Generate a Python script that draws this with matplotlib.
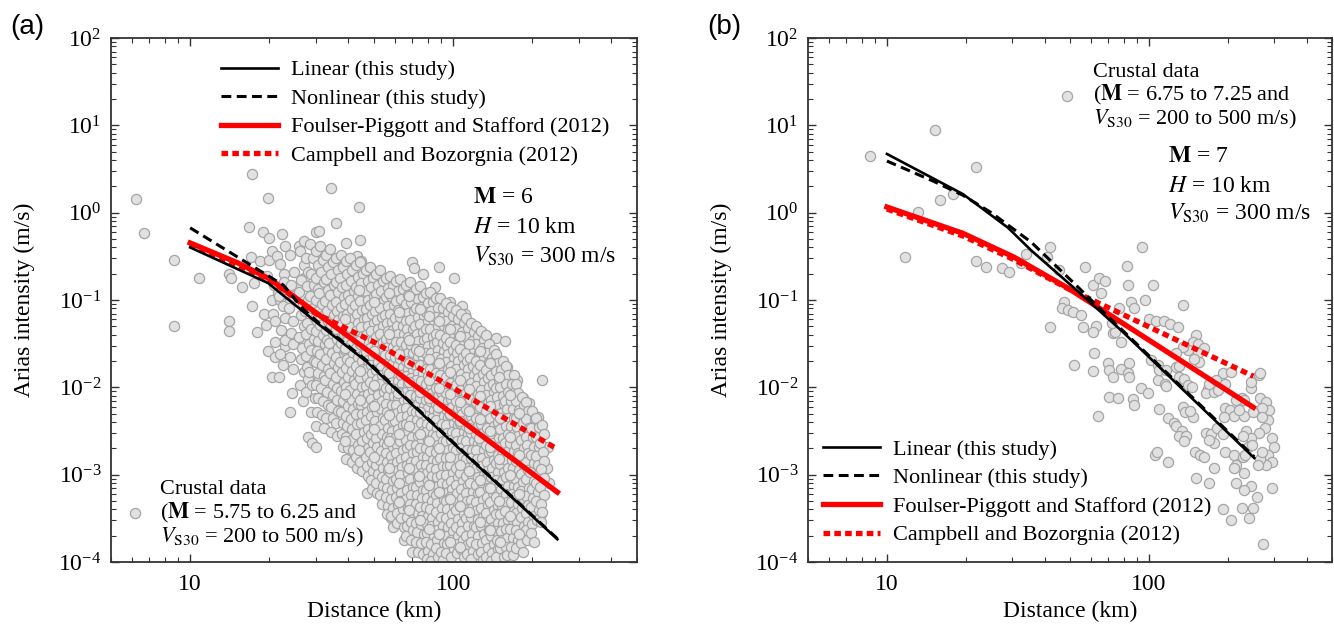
import matplotlib
matplotlib.use("Agg")
import matplotlib.pyplot as plt
from matplotlib.ticker import (LogLocator, NullFormatter, FixedLocator, FixedFormatter,
                               LogFormatterSciNotation)

plt.rcParams["font.family"] = ["Liberation Serif", "DejaVu Serif"]
plt.rcParams["mathtext.fontset"] = "stix"

# ---------------------------------------------------------------------------
# Data (distance in km, Arias intensity in m/s)
# ---------------------------------------------------------------------------
y_ticks = [1e-4, 1e-3, 1e-2, 1e-1, 1e0, 1e1, 1e2]
x_ticks = [10, 100]
x_tick_labels = ["10", "100"]

# (a) M = 6 model curves
lin_a_dist = [10, 19.8, 31, 47, 64, 100, 249]
lin_a_ia = [0.40, 0.156, 0.052, 0.0195, 0.0081, 0.0023, 1.82e-4]
nl_a_dist = [10, 17.4, 22.6, 27, 31, 47, 64, 100, 249]
nl_a_ia = [0.67, 0.24, 0.148, 0.078, 0.054, 0.0202, 0.0083, 0.00235, 1.85e-4]
fp_a_dist = [10, 15, 20, 30, 55, 100, 249]
fp_a_ia = [0.45, 0.27, 0.175, 0.072, 0.019, 0.0049, 6.3e-4]
cb_a_dist = [10, 20, 30, 50, 100, 249]
cb_a_ia = [0.44, 0.172, 0.07, 0.033, 0.0098, 0.00196]

# (b) M = 7 model curves
lin_b_dist = [10, 19.5, 29, 35.5, 51.8, 78.2, 252]
lin_b_ia = [4.7, 1.63, 0.67, 0.37, 0.137, 0.045, 0.00155]
nl_b_dist = [10, 15, 19.5, 25, 35.5, 51.8, 70, 100, 252]
nl_b_ia = [3.9, 2.3, 1.58, 1.0, 0.46, 0.155, 0.064, 0.023, 0.0016]
fp_b_dist = [10, 19.5, 30.5, 49, 78, 250]
fp_b_ia = [1.16, 0.58, 0.31, 0.137, 0.056, 0.0059]
cb_b_dist = [10, 19.5, 30.5, 49, 78, 150, 250]
cb_b_ia = [1.1, 0.54, 0.29, 0.135, 0.07, 0.0276, 0.0134]

# crustal records, M 5.75-6.25
crustal_a = [
    (6.2, 1.43), (6.7, 0.58), (8.7, 0.29), (8.7, 0.051), (10.8, 0.18), (14.0, 0.2), (14.3, 0.18),
    (14.0, 0.058), (14.1, 0.044), (15.8, 0.14), (16.8, 0.68), (17.0, 0.31), (17.2, 2.8), (17.2, 0.085),
    (17.5, 0.155), (17.9, 0.043), (18.5, 0.28), (19.0, 0.6), (19.1, 0.07), (19.5, 0.052), (19.7, 1.47),
    (19.8, 0.026), (20.0, 0.51), (20.0, 0.29), (20.4, 0.36), (20.4, 0.013), (20.5, 0.1), (20.6, 0.07),
    (21.0, 0.058), (21.0, 0.022), (21.0, 0.033), (21.3, 0.32), (21.7, 0.013), (22.0, 0.1), (22.3, 0.57),
    (22.6, 0.018), (22.8, 0.2), (23.0, 0.42), (23.0, 0.03), (23.9, 0.0052), (24.0, 0.098), (25.0, 0.034),
    (25.6, 0.14), (26.0, 0.42), (27.0, 0.47), (27.0, 0.18), (27.0, 0.032), (28.0, 0.0027), (28.7, 0.012),
    (29.0, 0.0023), (30.0, 0.0021), (30.0, 0.6), (30.0, 0.37), (31.0, 0.62), (31.0, 0.32), (31.0, 0.012),
    (32.7, 0.22), (33.0, 0.012), (34.2, 1.91), (35.7, 0.25), (36.0, 0.76), (39.0, 0.45), (39.0, 0.18),
    (42.6, 0.28), (43.0, 0.32), (43.8, 1.16), (44.3, 0.48), (44.5, 0.28), (47, 6.1e-4), (58, 3.2e-4),
    (59, 2.5e-4), (60, 0.16), (65, 1.8e-4), (70, 0.27), (70, 1.3e-4), (71, 0.23), (77, 0.2), (79, 0.12),
    (85, 0.14), (88, 0.24), (97, 0.095), (101, 0.18), (108, 0.085), (111, 0.07), (145, 0.037),
    (157, 0.034), (160, 0.017), (175, 0.012), (185, 0.0075), (195, 0.0067), (210, 0.0046),
    (213, 4.4e-4), (215, 3.5e-4), (218, 0.012), (218, 0.0012), (228, 0.0012), (229, 0.0021), (232, 8e-4),
    (20.8, 0.15), (21.5, 0.12), (19.6, 0.19),
    (22.0, 0.26), (22.8, 0.16), (21.8, 0.11), (22.5, 0.085), (23.0, 0.062), (22.2, 0.045), (22.9, 0.035), (21.9, 0.024),
    (24.0, 0.33), (24.8, 0.21), (24.2, 0.15), (24.9, 0.11), (23.8, 0.08), (24.5, 0.058), (24.1, 0.042),
    (24.7, 0.031), (23.9, 0.022), (24.6, 0.016), (24.3, 0.0085),
    (26.2, 0.36), (27.0, 0.25), (26.5, 0.17), (25.9, 0.125), (26.8, 0.09), (26.3, 0.068), (27.1, 0.05),
    (26.0, 0.038), (26.7, 0.028), (26.4, 0.021), (27.2, 0.015), (26.1, 0.0105), (26.9, 0.007),
    (27.5, 0.3), (28.0, 0.21), (27.7, 0.145), (28.1, 0.1), (27.4, 0.074), (27.9, 0.055), (27.6, 0.041),
    (28.2, 0.031), (27.5, 0.023), (27.8, 0.017), (28.0, 0.0125), (27.6, 0.0088),
    (28.6, 0.44), (29.4, 0.3), (28.8, 0.2), (29.7, 0.15), (28.5, 0.11), (29.2, 0.082), (29.9, 0.062),
    (28.7, 0.047), (29.5, 0.036), (28.9, 0.027), (29.6, 0.02), (28.4, 0.015), (29.1, 0.0105),
    (29.8, 0.0075), (28.8, 0.0052),
    (30.1, 0.36), (30.6, 0.25), (30.0, 0.18), (30.5, 0.135), (30.2, 0.1), (30.7, 0.075), (30.3, 0.057),
    (30.0, 0.044), (30.6, 0.034), (30.4, 0.026), (30.1, 0.0195), (30.7, 0.0145), (30.2, 0.0105),
    (30.5, 0.0075), (30.3, 0.0052), (30.0, 0.0036),
    (31.2, 0.42), (32.1, 0.29), (31.5, 0.21), (32.4, 0.16), (31.0, 0.12), (31.8, 0.09), (32.3, 0.068),
    (31.3, 0.052), (31.9, 0.04), (32.5, 0.031), (31.1, 0.024), (31.7, 0.018), (32.2, 0.0135),
    (31.4, 0.0098), (32.0, 0.007), (31.6, 0.0048), (32.4, 0.0034),
    (32.8, 0.33), (33.3, 0.24), (32.9, 0.175), (33.5, 0.13), (32.7, 0.098), (33.2, 0.075), (33.4, 0.058),
    (32.8, 0.045), (33.1, 0.035), (33.5, 0.027), (32.9, 0.021), (33.3, 0.016), (32.7, 0.012),
    (33.0, 0.0088), (33.4, 0.0063), (32.8, 0.0045),
    (34.1, 0.38), (35.0, 0.27), (34.4, 0.2), (35.3, 0.15), (33.9, 0.115), (34.7, 0.088), (35.1, 0.068),
    (34.2, 0.053), (34.9, 0.041), (33.8, 0.032), (34.6, 0.025), (35.2, 0.019), (34.0, 0.0145),
    (34.8, 0.011), (35.0, 0.0082), (34.3, 0.006), (34.9, 0.0044), (34.2, 0.0031),
    (35.8, 0.3), (36.4, 0.22), (36.0, 0.16), (36.6, 0.125), (35.9, 0.095), (36.3, 0.075), (36.5, 0.059),
    (35.8, 0.046), (36.2, 0.036), (36.6, 0.028), (36.0, 0.022), (36.4, 0.017), (35.9, 0.013),
    (36.3, 0.0098), (36.1, 0.0072), (36.5, 0.0053), (35.8, 0.0039), (36.2, 0.0028),
    (37.3, 0.33), (38.2, 0.24), (37.0, 0.18), (37.9, 0.14), (38.5, 0.108), (37.4, 0.084), (38.0, 0.066),
    (37.2, 0.052), (38.3, 0.041), (37.6, 0.032), (38.4, 0.025), (37.1, 0.0195), (37.8, 0.015),
    (38.6, 0.0116), (37.5, 0.009), (38.1, 0.0069), (37.3, 0.0052), (38.2, 0.0039), (37.7, 0.0029), (38.0, 0.0021),
    (39.0, 0.28), (39.6, 0.2), (39.2, 0.15), (39.8, 0.115), (38.9, 0.09), (39.4, 0.07), (39.7, 0.055),
    (39.1, 0.043), (39.5, 0.034), (38.9, 0.027), (39.6, 0.021), (39.2, 0.0168), (39.8, 0.013),
    (39.0, 0.0102), (39.4, 0.0079), (39.7, 0.0061), (39.1, 0.0047), (39.5, 0.0036), (39.3, 0.0027),
    (39.8, 0.002), (39.0, 0.0015),
    (40.5, 0.3), (41.4, 0.22), (40.8, 0.165), (41.8, 0.128), (40.4, 0.1), (41.2, 0.079), (41.9, 0.062),
    (40.7, 0.049), (41.5, 0.039), (40.9, 0.031), (41.7, 0.025), (40.6, 0.0195), (41.3, 0.0153),
    (41.9, 0.012), (40.5, 0.0093), (41.1, 0.0072), (41.6, 0.0056), (40.8, 0.0043), (41.4, 0.0033),
    (40.9, 0.0025), (41.7, 0.0019), (41.2, 0.0014),
    (42.6, 0.25), (43.3, 0.185), (42.8, 0.14), (43.5, 0.11), (42.5, 0.087), (43.1, 0.069), (43.4, 0.055),
    (42.7, 0.044), (43.2, 0.035), (42.6, 0.028), (43.5, 0.022), (42.9, 0.0175), (43.3, 0.0138),
    (42.5, 0.0108), (43.0, 0.0084), (43.4, 0.0065), (42.7, 0.005), (43.2, 0.0038), (42.9, 0.0029),
    (43.5, 0.0022), (42.6, 0.0016), (43.1, 0.0012),
    (44.4, 0.27), (45.5, 0.2), (44.8, 0.155), (45.9, 0.122), (44.2, 0.097), (45.1, 0.077), (45.8, 0.061),
    (44.6, 0.049), (45.3, 0.039), (44.1, 0.031), (45.7, 0.025), (44.9, 0.02), (45.4, 0.016),
    (44.3, 0.0127), (45.0, 0.0101), (45.6, 0.008), (44.7, 0.0063), (45.2, 0.005), (44.5, 0.0039),
    (45.9, 0.0031), (44.9, 0.0024), (45.5, 0.0018), (44.4, 0.0014), (45.1, 0.0011),
    (46.6, 0.22), (47.4, 0.165), (46.8, 0.127), (47.6, 0.1), (46.5, 0.079), (47.1, 0.063), (47.5, 0.05),
    (46.7, 0.04), (47.3, 0.032), (46.5, 0.0255), (47.6, 0.0203), (46.9, 0.0162), (47.2, 0.013),
    (46.6, 0.0104), (47.4, 0.0083), (46.8, 0.0066), (47.1, 0.0052), (46.5, 0.0042), (47.5, 0.0033),
    (46.9, 0.0026), (47.3, 0.002), (46.6, 0.0016), (47.0, 0.00125), (47.4, 9.6e-4),
    (48.4, 0.24), (49.5, 0.18), (48.9, 0.14), (49.9, 0.11), (48.2, 0.087), (49.2, 0.069), (49.8, 0.055),
    (48.6, 0.044), (49.4, 0.035), (48.1, 0.028), (49.7, 0.0225), (48.8, 0.018), (49.3, 0.0145),
    (48.3, 0.0116), (49.6, 0.0093), (48.9, 0.0074), (49.1, 0.0059), (48.5, 0.0047), (49.8, 0.0037),
    (48.7, 0.0029), (49.4, 0.0023), (48.2, 0.0018), (49.0, 0.0014), (49.6, 0.0011), (48.6, 8.6e-4), (49.2, 6.8e-4),
    (50.7, 0.2), (51.6, 0.15), (50.9, 0.118), (51.8, 0.093), (50.6, 0.074), (51.3, 0.059), (51.7, 0.047),
    (50.8, 0.038), (51.4, 0.0305), (50.6, 0.0245), (51.8, 0.0196), (51.0, 0.0157), (51.5, 0.0126),
    (50.7, 0.0101), (51.6, 0.0081), (50.9, 0.0065), (51.2, 0.0052), (50.6, 0.0041), (51.7, 0.0032),
    (51.0, 0.0026), (51.4, 0.0021), (50.8, 0.0016), (51.1, 0.00128), (51.6, 0.00102), (50.9, 8e-4), (51.3, 6.2e-4),
    (52.8, 0.22), (54.1, 0.165), (53.3, 0.128), (54.5, 0.1), (52.6, 0.08), (53.7, 0.064), (54.3, 0.051),
    (52.9, 0.041), (53.9, 0.033), (52.5, 0.027), (54.2, 0.0215), (53.1, 0.0172), (53.8, 0.0138),
    (52.7, 0.011), (54.4, 0.0088), (53.4, 0.007), (53.0, 0.0056), (54.0, 0.0045), (52.8, 0.0036),
    (53.6, 0.0029), (54.4, 0.0023), (53.2, 0.00185), (52.6, 0.00148), (53.9, 0.00118), (53.4, 9.4e-4),
    (54.2, 7.5e-4), (52.9, 5.9e-4), (53.5, 4.6e-4),
    (55.4, 0.18), (56.5, 0.138), (55.7, 0.107), (56.7, 0.085), (55.3, 0.068), (56.1, 0.054), (56.6, 0.044),
    (55.5, 0.0355), (56.3, 0.0288), (55.3, 0.0233), (56.7, 0.0188), (55.8, 0.0152), (56.4, 0.0123),
    (55.4, 0.0099), (56.6, 0.008), (55.7, 0.0064), (56.0, 0.0052), (55.3, 0.0042), (56.5, 0.0034),
    (55.8, 0.0027), (56.2, 0.0022), (55.5, 0.00175), (56.0, 0.0014), (56.6, 0.00112), (55.6, 8.9e-4),
    (56.2, 7.1e-4), (55.4, 5.6e-4), (56.4, 4.4e-4), (55.9, 3.5e-4),
    (57.7, 0.19), (59.1, 0.145), (58.2, 0.112), (59.5, 0.088), (57.5, 0.07), (58.7, 0.056), (59.3, 0.045),
    (57.9, 0.036), (58.9, 0.029), (57.4, 0.0235), (59.2, 0.019), (58.1, 0.0152), (58.8, 0.0122),
    (57.6, 0.0098), (59.4, 0.0079), (58.3, 0.0063), (57.8, 0.005), (59.0, 0.004), (58.5, 0.0032),
    (57.5, 0.0026), (59.3, 0.0021), (58.0, 0.00165), (58.7, 0.00132), (57.7, 0.00106), (59.1, 8.4e-4),
    (58.4, 6.7e-4), (57.9, 5.3e-4), (58.9, 4.2e-4), (58.2, 3.4e-4),
    (60.4, 0.165), (61.6, 0.126), (60.7, 0.098), (61.8, 0.077), (60.3, 0.062), (61.2, 0.05), (61.7, 0.041),
    (60.5, 0.033), (61.4, 0.027), (60.3, 0.022), (61.8, 0.0178), (60.8, 0.0145), (61.5, 0.0118),
    (60.4, 0.0096), (61.7, 0.0078), (60.7, 0.0063), (61.1, 0.0051), (60.3, 0.0041), (61.6, 0.0033),
    (60.8, 0.0027), (61.3, 0.0022), (60.5, 0.00175), (61.0, 0.0014), (61.7, 0.00112), (60.6, 8.9e-4),
    (61.3, 7.1e-4), (60.4, 5.6e-4), (61.5, 4.5e-4), (60.9, 3.6e-4), (61.2, 2.8e-4),
    (63.0, 0.175), (64.6, 0.132), (63.5, 0.102), (65.0, 0.08), (62.8, 0.064), (64.2, 0.051), (64.8, 0.041),
    (63.2, 0.033), (64.4, 0.0265), (62.7, 0.0213), (64.7, 0.0171), (63.4, 0.0137), (64.1, 0.011),
    (62.9, 0.0088), (64.9, 0.0071), (63.7, 0.0057), (63.1, 0.0046), (64.5, 0.0037), (63.9, 0.003),
    (62.6, 0.0024), (64.3, 0.0019), (63.3, 0.00153), (64.0, 0.00122), (62.8, 9.8e-4), (64.6, 7.8e-4),
    (63.6, 6.2e-4), (63.0, 5e-4), (64.2, 4e-4), (63.5, 3.2e-4), (64.8, 2.5e-4),
    (66.0, 0.15), (67.3, 0.115), (66.3, 0.09), (67.5, 0.071), (65.9, 0.057), (66.8, 0.046), (67.4, 0.0375),
    (66.1, 0.0305), (67.1, 0.0248), (65.9, 0.0202), (67.5, 0.0164), (66.4, 0.0133), (67.2, 0.0108),
    (66.0, 0.0088), (67.4, 0.0071), (66.3, 0.0058), (66.8, 0.0047), (65.9, 0.0038), (67.3, 0.0031),
    (66.4, 0.0025), (67.0, 0.002), (66.1, 0.0016), (66.7, 0.0013), (67.4, 0.00104), (66.2, 8.3e-4),
    (67.0, 6.6e-4), (66.0, 5.2e-4), (67.2, 4.1e-4), (66.5, 3.3e-4), (66.9, 2.6e-4), (66.2, 2e-4),
    (68.8, 0.16), (70.5, 0.12), (69.3, 0.094), (70.9, 0.074), (68.5, 0.059), (70.1, 0.047), (70.7, 0.038),
    (69.0, 0.0305), (70.3, 0.0245), (68.4, 0.0197), (70.6, 0.0158), (69.2, 0.0127), (69.9, 0.0102),
    (68.7, 0.0082), (70.8, 0.0066), (69.5, 0.0053), (68.9, 0.0042), (70.4, 0.0034), (69.7, 0.0027),
    (68.3, 0.0022), (70.2, 0.00175), (69.1, 0.0014), (69.8, 0.00113), (68.6, 9e-4), (70.5, 7.2e-4),
    (69.4, 5.8e-4), (68.8, 4.6e-4), (70.0, 3.7e-4), (69.3, 2.9e-4), (70.6, 2.3e-4), (69.0, 1.8e-4),
    (72.0, 0.135), (73.5, 0.103), (72.3, 0.081), (73.7, 0.064), (71.9, 0.051), (72.9, 0.041), (73.6, 0.0335),
    (72.1, 0.0272), (73.2, 0.0222), (71.9, 0.0181), (73.7, 0.0147), (72.4, 0.012), (73.3, 0.0097),
    (72.0, 0.0079), (73.5, 0.0064), (72.3, 0.0052), (72.8, 0.0042), (71.9, 0.0034), (73.4, 0.0028),
    (72.4, 0.0022), (73.0, 0.0018), (72.1, 0.00144), (72.7, 0.00115), (73.5, 9.2e-4), (72.2, 7.3e-4),
    (73.0, 5.8e-4), (72.0, 4.6e-4), (73.3, 3.6e-4), (72.5, 2.8e-4), (73.0, 2.2e-4), (72.2, 1.7e-4), (73.4, 1.3e-4),
    (75.1, 0.145), (77.0, 0.108), (75.7, 0.084), (77.4, 0.066), (74.8, 0.053), (76.5, 0.043), (77.2, 0.0345),
    (75.3, 0.0278), (76.8, 0.0224), (74.7, 0.018), (77.1, 0.0145), (75.5, 0.0117), (76.3, 0.0094),
    (75.0, 0.0076), (77.3, 0.0061), (75.9, 0.0049), (75.2, 0.0039), (76.9, 0.0032), (76.1, 0.0025),
    (74.6, 0.002), (76.6, 0.0016), (75.4, 0.0013), (76.2, 0.00104), (74.9, 8.3e-4), (77.0, 6.7e-4),
    (75.8, 5.4e-4), (75.1, 4.3e-4), (76.4, 3.4e-4), (75.6, 2.7e-4), (77.2, 2.1e-4), (75.3, 1.65e-4), (76.7, 1.25e-4),
    (78.6, 0.12), (80.3, 0.092), (79.0, 0.072), (80.5, 0.057), (78.5, 0.046), (79.6, 0.037), (80.4, 0.03),
    (78.8, 0.0245), (80.0, 0.02), (78.5, 0.0163), (80.5, 0.0133), (79.1, 0.0108), (80.1, 0.0088),
    (78.6, 0.0071), (80.3, 0.0058), (79.0, 0.0047), (79.5, 0.0038), (78.5, 0.0031), (80.2, 0.0025),
    (79.1, 0.002), (79.8, 0.0016), (78.8, 0.0013), (79.4, 0.00105), (80.3, 8.4e-4), (78.9, 6.7e-4),
    (79.8, 5.4e-4), (78.6, 4.3e-4), (80.1, 3.4e-4), (79.2, 2.7e-4), (79.8, 2.15e-4), (78.9, 1.7e-4),
    (80.2, 1.35e-4), (79.3, 1.07e-4),
    (82.0, 0.125), (84.1, 0.095), (82.7, 0.074), (84.5, 0.058), (81.6, 0.047), (83.5, 0.038), (84.3, 0.031),
    (82.2, 0.025), (83.9, 0.0202), (81.5, 0.0163), (84.2, 0.0131), (82.4, 0.0106), (83.3, 0.0085),
    (81.9, 0.0069), (84.4, 0.0055), (82.9, 0.0044), (82.1, 0.0036), (84.0, 0.0029), (83.1, 0.0023),
    (81.4, 0.00185), (83.7, 0.00148), (82.3, 0.00119), (83.2, 9.6e-4), (81.8, 7.7e-4), (84.1, 6.2e-4),
    (82.8, 5e-4), (82.0, 4e-4), (83.4, 3.2e-4), (82.6, 2.55e-4), (84.3, 2e-4), (82.2, 1.6e-4),
    (83.8, 1.25e-4), (82.5, 1.02e-4),
    (85.8, 0.105), (87.7, 0.082), (86.2, 0.064), (87.9, 0.051), (85.7, 0.041), (86.9, 0.033), (87.8, 0.027),
    (86.0, 0.0222), (87.3, 0.018), (85.7, 0.0147), (87.9, 0.012), (86.3, 0.0097), (87.4, 0.0079),
    (85.8, 0.0064), (87.7, 0.0052), (86.2, 0.0042), (86.8, 0.0034), (85.7, 0.0028), (87.6, 0.0022),
    (86.3, 0.0018), (87.1, 0.00145), (86.0, 0.00116), (86.7, 9.3e-4), (87.7, 7.4e-4), (86.1, 5.9e-4),
    (87.1, 4.7e-4), (85.8, 3.7e-4), (87.4, 2.9e-4), (86.5, 2.3e-4), (87.1, 1.8e-4), (86.1, 1.45e-4), (87.6, 1.15e-4),
    (89.5, 0.105), (91.8, 0.08), (90.3, 0.063), (92.3, 0.05), (89.1, 0.04), (91.2, 0.032), (92.0, 0.026),
    (89.7, 0.021), (91.6, 0.017), (89.0, 0.0137), (91.9, 0.011), (90.0, 0.0089), (90.9, 0.0072),
    (89.4, 0.0058), (92.1, 0.0047), (90.5, 0.0038), (89.6, 0.003), (91.7, 0.0024), (90.7, 0.0019),
    (88.9, 0.00155), (91.4, 0.00124), (89.8, 0.001), (90.8, 8e-4), (89.3, 6.4e-4), (91.9, 5.1e-4),
    (90.4, 4.1e-4), (89.6, 3.3e-4), (91.1, 2.6e-4), (90.2, 2.1e-4), (92.0, 1.65e-4), (89.7, 1.3e-4), (91.5, 1.04e-4),
    (93.7, 0.092), (95.8, 0.072), (94.1, 0.057), (96.0, 0.046), (93.6, 0.037), (94.9, 0.03), (95.9, 0.0243),
    (93.9, 0.0197), (95.3, 0.016), (93.6, 0.013), (96.0, 0.0106), (94.2, 0.0086), (95.4, 0.007),
    (93.7, 0.0057), (95.8, 0.0046), (94.1, 0.0037), (94.8, 0.003), (93.6, 0.0024), (95.7, 0.0019),
    (94.2, 0.00155), (95.1, 0.00124), (93.9, 9.9e-4), (94.6, 7.9e-4), (95.8, 6.3e-4), (94.0, 5e-4),
    (95.1, 4e-4), (93.7, 3.2e-4), (95.4, 2.5e-4), (94.4, 2e-4), (95.0, 1.6e-4), (94.0, 1.27e-4),
    (97.8, 0.084), (100.3, 0.065), (98.7, 0.051), (100.9, 0.041), (97.3, 0.033), (99.7, 0.0265),
    (100.5, 0.0215), (98.0, 0.0174), (100.1, 0.014), (97.2, 0.0113), (100.4, 0.0091), (98.3, 0.0074),
    (99.3, 0.006), (97.7, 0.0048), (100.7, 0.0039), (98.9, 0.0031), (97.9, 0.0025), (100.2, 0.002),
    (99.1, 0.0016), (97.1, 0.0013), (99.9, 0.00105), (98.1, 8.5e-4), (99.2, 6.8e-4), (97.6, 5.5e-4),
    (100.6, 4.4e-4), (98.8, 3.5e-4), (97.9, 2.8e-4), (99.6, 2.25e-4), (98.5, 1.8e-4), (100.5, 1.42e-4), (98.0, 1.13e-4),
    (102.3, 0.077), (104.6, 0.06), (102.7, 0.047), (104.8, 0.0375), (102.1, 0.0302), (103.6, 0.0245),
    (104.7, 0.0198), (102.5, 0.016), (104.1, 0.013), (102.1, 0.0106), (104.9, 0.0086), (102.8, 0.007),
    (104.2, 0.0057), (102.3, 0.0046), (104.6, 0.0037), (102.7, 0.003), (103.5, 0.0024), (102.1, 0.0019),
    (104.5, 0.0015), (102.8, 0.0012), (103.9, 9.5e-4), (102.5, 7.6e-4), (103.3, 6.1e-4), (104.6, 4.9e-4),
    (102.6, 3.9e-4), (103.9, 3.1e-4), (102.3, 2.5e-4), (104.2, 2e-4), (103.0, 1.6e-4), (103.8, 1.27e-4),
    (106.8, 0.07), (109.5, 0.054), (107.7, 0.043), (110.2, 0.034), (106.3, 0.0275), (108.8, 0.022),
    (109.8, 0.0178), (107.0, 0.0143), (109.3, 0.0116), (106.1, 0.0093), (109.7, 0.0075), (107.3, 0.006),
    (108.4, 0.0049), (106.6, 0.0039), (110.0, 0.0031), (108.0, 0.0025), (106.9, 0.002), (109.4, 0.0016),
    (108.2, 0.0013), (106.0, 0.00104), (109.1, 8.4e-4), (107.1, 6.8e-4), (108.3, 5.4e-4), (106.6, 4.4e-4),
    (109.9, 3.5e-4), (107.9, 2.8e-4), (106.9, 2.25e-4), (108.7, 1.8e-4), (107.5, 1.42e-4), (109.6, 1.13e-4),
    (111.7, 0.062), (114.2, 0.048), (112.1, 0.038), (114.4, 0.0305), (111.5, 0.0245), (113.1, 0.0198),
    (114.3, 0.016), (111.9, 0.013), (113.6, 0.0105), (111.5, 0.0085), (114.4, 0.0069), (112.2, 0.0056),
    (113.7, 0.0045), (111.7, 0.0036), (114.2, 0.0029), (112.1, 0.0024), (113.0, 0.0019), (111.5, 0.0015),
    (114.1, 0.0012), (112.2, 9.6e-4), (113.4, 7.7e-4), (111.9, 6.2e-4), (112.8, 5e-4), (114.2, 4e-4),
    (112.0, 3.2e-4), (113.4, 2.55e-4), (111.7, 2e-4), (113.7, 1.6e-4), (112.5, 1.25e-4),
    (116.6, 0.055), (119.6, 0.043), (117.6, 0.034), (120.3, 0.0272), (116.1, 0.0218), (118.8, 0.0175),
    (119.9, 0.014), (116.9, 0.0113), (119.4, 0.009), (115.9, 0.0073), (119.8, 0.0058), (117.2, 0.0047),
    (118.4, 0.0038), (116.4, 0.003), (120.1, 0.0024), (117.9, 0.0019), (116.7, 0.00155), (119.5, 0.00124),
    (118.2, 0.001), (115.8, 8e-4), (119.2, 6.4e-4), (117.0, 5.1e-4), (118.3, 4.1e-4), (116.4, 3.3e-4),
    (120.0, 2.6e-4), (117.8, 2.1e-4), (116.7, 1.7e-4), (118.7, 1.35e-4), (117.4, 1.08e-4),
    (122.0, 0.05), (124.8, 0.039), (122.5, 0.031), (124.9, 0.0247), (121.9, 0.0198), (123.6, 0.0159),
    (124.7, 0.0128), (122.3, 0.0104), (124.1, 0.0084), (121.9, 0.0068), (124.9, 0.0055), (122.6, 0.0044),
    (124.2, 0.0036), (122.0, 0.0029), (124.6, 0.0023), (122.5, 0.0019), (123.4, 0.0015), (121.9, 0.0012),
    (124.5, 9.5e-4), (122.6, 7.6e-4), (123.9, 6.1e-4), (122.3, 4.9e-4), (123.2, 3.9e-4), (124.6, 3.1e-4),
    (122.4, 2.5e-4), (123.9, 2e-4), (122.1, 1.6e-4), (124.2, 1.25e-4),
    (127.5, 0.044), (130.8, 0.035), (128.5, 0.028), (131.5, 0.0222), (126.9, 0.0178), (129.9, 0.0143),
    (131.1, 0.0115), (127.8, 0.0092), (130.5, 0.0074), (126.7, 0.0059), (131.0, 0.0047), (128.1, 0.0038),
    (129.4, 0.003), (127.2, 0.0024), (131.3, 0.0019), (128.9, 0.00155), (127.6, 0.00124), (130.6, 0.001),
    (129.2, 8e-4), (126.6, 6.4e-4), (130.3, 5.1e-4), (127.9, 4.1e-4), (129.3, 3.3e-4), (127.2, 2.6e-4),
    (131.2, 2.1e-4), (128.8, 1.65e-4), (127.6, 1.3e-4), (130.0, 1.05e-4),
    (133.4, 0.04), (136.5, 0.031), (133.9, 0.0247), (136.7, 0.0197), (133.2, 0.0158), (135.1, 0.0127),
    (136.4, 0.0102), (133.7, 0.0082), (135.7, 0.0066), (133.2, 0.0053), (136.7, 0.0043), (134.0, 0.0034),
    (135.8, 0.0027), (133.4, 0.0022), (136.3, 0.00175), (133.9, 0.0014), (134.9, 0.0011), (133.2, 8.8e-4),
    (136.1, 7e-4), (134.0, 5.6e-4), (135.5, 4.5e-4), (133.7, 3.6e-4), (134.7, 2.9e-4), (136.3, 2.3e-4),
    (133.8, 1.8e-4), (135.5, 1.45e-4), (133.5, 1.15e-4),
    (142.9, 0.027), (140.5, 0.0215), (143.7, 0.0172), (138.7, 0.0138), (142.0, 0.011), (143.3, 0.0088),
    (139.7, 0.0071), (142.6, 0.0057), (138.5, 0.0045), (143.1, 0.0036), (140.0, 0.0029), (141.4, 0.0023),
    (139.0, 0.00185), (143.5, 0.00148), (140.9, 0.00118), (139.5, 9.5e-4), (142.7, 7.6e-4), (141.2, 6.1e-4),
    (138.4, 4.9e-4), (142.4, 3.9e-4), (139.8, 3.1e-4), (141.3, 2.5e-4), (139.0, 2e-4), (143.4, 1.6e-4),
    (140.7, 1.28e-4), (139.4, 1.03e-4),
    (145.3, 0.024), (148.7, 0.019), (145.8, 0.0152), (148.9, 0.0121), (145.1, 0.0097), (147.2, 0.0078),
    (148.6, 0.0062), (145.6, 0.005), (147.8, 0.004), (145.1, 0.0032), (148.9, 0.0026), (146.0, 0.0021),
    (147.9, 0.0017), (145.3, 0.00135), (148.5, 0.00108), (145.8, 8.6e-4), (147.0, 6.9e-4), (145.1, 5.5e-4),
    (148.3, 4.4e-4), (146.0, 3.5e-4), (147.6, 2.8e-4), (145.6, 2.25e-4), (146.7, 1.8e-4), (148.5, 1.42e-4),
    (145.9, 1.13e-4),
    (155.1, 0.0198), (152.5, 0.0158), (155.9, 0.0126), (150.6, 0.01), (154.1, 0.008), (155.6, 0.0064),
    (151.6, 0.0051), (154.8, 0.0041), (150.3, 0.0033), (155.3, 0.0026), (151.9, 0.0021), (153.4, 0.00167),
    (150.9, 0.00133), (155.7, 0.00107), (152.9, 8.5e-4), (151.4, 6.8e-4), (154.9, 5.5e-4), (153.2, 4.4e-4),
    (150.2, 3.5e-4), (154.5, 2.8e-4), (151.7, 2.25e-4), (153.4, 1.8e-4), (150.9, 1.44e-4), (155.6, 1.15e-4),
    (158.2, 0.0175), (161.9, 0.0138), (158.8, 0.011), (162.1, 0.0088), (158.0, 0.007), (160.3, 0.0056),
    (161.8, 0.0045), (158.6, 0.0036), (161.0, 0.0029), (158.0, 0.0023), (162.1, 0.00185), (159.0, 0.00148),
    (161.1, 0.00118), (158.2, 9.4e-4), (161.6, 7.5e-4), (158.8, 6e-4), (160.1, 4.8e-4), (158.0, 3.8e-4),
    (161.4, 3e-4), (159.0, 2.4e-4), (160.7, 1.9e-4), (158.6, 1.5e-4), (159.8, 1.2e-4),
    (170.3, 0.0139), (167.4, 0.011), (171.2, 0.0088), (165.3, 0.007), (169.2, 0.0056), (170.9, 0.0045),
    (166.5, 0.0036), (170.0, 0.0029), (165.0, 0.0023), (170.5, 0.00185), (166.8, 0.00148), (168.4, 0.00118),
    (165.7, 9.4e-4), (171.0, 7.5e-4), (167.9, 6e-4), (166.2, 4.8e-4), (170.1, 3.8e-4), (168.2, 3e-4),
    (165.1, 2.4e-4), (169.6, 1.9e-4), (166.6, 1.5e-4), (168.5, 1.2e-4),
    (173.1, 0.011), (177.1, 0.0087), (173.7, 0.0069), (177.3, 0.0055), (172.9, 0.0044), (175.4, 0.0035),
    (177.0, 0.0028), (173.5, 0.0022), (176.2, 0.00178), (172.9, 0.00142), (177.3, 0.00113), (174.0, 9e-4),
    (176.3, 7.2e-4), (173.1, 5.7e-4), (176.8, 4.6e-4), (173.7, 3.6e-4), (175.1, 2.9e-4), (172.9, 2.3e-4),
    (176.6, 1.8e-4), (174.0, 1.45e-4),
    (182.5, 0.0078), (186.7, 0.0062), (180.3, 0.0049), (184.5, 0.0039), (186.3, 0.0031), (181.6, 0.0025),
    (185.4, 0.002), (179.9, 0.0016), (185.9, 0.00128), (181.9, 0.00102), (183.6, 8.2e-4), (180.7, 6.5e-4),
    (186.5, 5.2e-4), (183.0, 4.1e-4), (181.2, 3.3e-4), (185.5, 2.6e-4), (183.4, 2.1e-4), (180.4, 1.65e-4),
    (184.9, 1.3e-4),
    (188.9, 0.0068), (193.3, 0.0054), (189.6, 0.0043), (193.5, 0.0034), (188.7, 0.0027), (191.4, 0.0022),
    (193.2, 0.00175), (189.4, 0.0014), (192.3, 0.00112), (188.7, 8.9e-4), (193.5, 7.1e-4), (189.9, 5.7e-4),
    (192.4, 4.5e-4), (188.9, 3.6e-4), (193.0, 2.9e-4), (189.6, 2.3e-4), (191.1, 1.8e-4),
    (199.3, 0.0054), (203.9, 0.0043), (196.9, 0.0034), (201.5, 0.0027), (203.4, 0.0021), (198.3, 0.0017),
    (202.4, 0.00135), (196.5, 0.00107), (203.0, 8.5e-4), (198.7, 6.8e-4), (200.5, 5.4e-4), (197.3, 4.3e-4),
    (203.7, 3.4e-4), (199.9, 2.7e-4), (197.9, 2.15e-4), (202.2, 1.7e-4),
    (206.7, 0.0045), (211.5, 0.0035), (207.4, 0.0027), (211.7, 0.0021), (206.5, 0.00165), (209.4, 0.0013),
    (211.4, 0.00103), (207.2, 8.1e-4), (210.4, 6.4e-4), (206.5, 5e-4), (211.7, 3.9e-4), (207.8, 3e-4),
    (217.3, 0.0037), (222.3, 0.0029), (214.7, 0.0023), (219.7, 0.00182), (221.7, 0.00145), (216.2, 0.00115),
    (220.7, 9.2e-4), (214.3, 7.3e-4), (221.3, 5.8e-4), (216.6, 4.6e-4), (218.6, 3.7e-4), (215.1, 2.9e-4),
    (38.7, 0.061), (38.7, 0.0083), (38.7, 0.0024), (38.8, 0.028),
    (44.0, 0.13), (44.0, 0.034), (44.1, 0.0071), (43.9, 0.0019), (44.2, 0.0155),
    (50.0, 0.095), (50.1, 0.026), (50.0, 0.0061), (49.9, 0.0016), (50.2, 0.0105), (50.0, 0.0033),
    (57.0, 0.12), (57.0, 0.041), (57.1, 0.0145), (56.9, 0.0048), (57.2, 0.0012), (57.0, 0.0024),
    (62.0, 0.072), (62.1, 0.024), (61.9, 0.0085), (62.0, 0.0029), (62.2, 8e-4), (62.0, 4.9e-4),
    (68.0, 0.11), (68.1, 0.035), (67.9, 0.0114), (68.0, 0.0036), (68.2, 0.0012), (68.0, 3.9e-4), (68.1, 0.019),
    (74.5, 0.078), (74.4, 0.026), (74.6, 0.0088), (74.5, 0.0029), (74.3, 9.6e-4), (74.5, 3e-4), (74.6, 0.0052),
    (81.0, 0.066), (81.1, 0.021), (80.9, 0.0076), (81.0, 0.0024), (81.2, 7.6e-4), (81.0, 2.4e-4), (81.1, 0.012),
    (88.0, 0.058), (88.1, 0.019), (87.9, 0.0059), (88.0, 0.002), (88.2, 6.4e-4), (88.0, 2.1e-4), (88.1, 0.0098),
    (97.0, 0.047), (97.1, 0.015), (96.9, 0.0049), (97.0, 0.0016), (97.2, 5.2e-4), (97.0, 1.7e-4), (97.1, 0.0083),
    (106, 0.039), (106.1, 0.012), (105.9, 0.0041), (106, 0.0013), (106.2, 4.4e-4), (106, 1.5e-4), (106.1, 0.0068),
    (115, 0.031), (115.1, 0.0096), (114.9, 0.0034), (115, 0.0011), (115.2, 3.7e-4), (115, 0.0054),
    (126, 0.026), (126.1, 0.0079), (125.9, 0.0026), (126, 8.7e-4), (126.2, 2.9e-4), (126, 0.0043),
    (138, 0.019), (138.1, 0.0061), (137.9, 0.0021), (138, 7e-4), (138.2, 2.3e-4), (138, 0.0032),
    (150, 0.013), (150.1, 0.0044), (149.9, 0.0015), (150, 5e-4), (150.2, 1.7e-4),
    (165, 0.0081), (165.1, 0.0027), (164.9, 9.8e-4), (165, 3.4e-4),
    (178, 0.0051), (178, 0.0017), (178, 6e-4), (178, 2.1e-4),
]

# crustal records, M 6.75-7.25
crustal_b = [
    (8.6, 4.45), (15.2, 8.8), (21.9, 3.33), (17.9, 1.63), (15.9, 1.41), (13.1, 1.01), (11.7, 0.31),
    (21.9, 0.28), (23.9, 0.24), (27.5, 0.23), (29.2, 0.21), (32.5, 0.265), (34, 0.34), (40.8, 0.31),
    (42, 0.40), (45.3, 0.22), (57, 0.24), (94, 0.40), (82.4, 0.245), (61, 0.15), (64.5, 0.18), (68, 0.165),
    (65.6, 0.12), (83, 0.15), (103.5, 0.15),
    (47.4, 0.095), (46.5, 0.08), (49, 0.077), (51.3, 0.072), (55, 0.067), (85.5, 0.095), (87.7, 0.08),
    (96.3, 0.1), (135, 0.088), (76.9, 0.08), (100, 0.061), (106, 0.057), (114, 0.058), (120, 0.053),
    (129, 0.049), (42, 0.049), (56, 0.049), (63, 0.05), (61, 0.043), (73, 0.042), (78.2, 0.033), (74, 0.043),
    (72, 0.054), (61.6, 0.025), (51.8, 0.018), (61, 0.0155), (69.8, 0.019), (70.4, 0.0157), (78.2, 0.016),
    (84, 0.019), (83, 0.0145), (84, 0.013), (73, 0.013),
    (70.4, 0.0077), (76.4, 0.0075), (87, 0.0073), (87.7, 0.0063), (93.3, 0.0098), (99, 0.0085), (64, 0.0047),
    (109, 0.0056), (108, 0.012), (115, 0.011), (116, 0.0103), (102, 0.0204), (108, 0.018), (109, 0.0157),
    (116, 0.0157), (127, 0.017), (130, 0.013), (136, 0.0125), (141, 0.0106), (146, 0.0101),
    (151, 0.04), (147, 0.033), (154, 0.031), (162, 0.028), (154, 0.025), (155, 0.0195), (149, 0.021),
    (141, 0.0265), (135, 0.029), (130, 0.0175), (127, 0.025),
    (135, 0.0059), (137, 0.0052), (147, 0.0046), (143, 0.0054), (118, 0.0044), (124, 0.0039), (127, 0.0036),
    (133, 0.0032), (130, 0.0028), (138, 0.0028), (136, 0.0024), (105, 0.0017), (107, 0.0018), (118, 0.0014),
    (150, 0.0018), (156, 0.0017), (162, 0.0016), (151, 9.1e-4), (169, 8e-4),
    (168, 0.0096), (165, 0.0087), (177, 0.0088), (169, 0.011), (183, 0.0093), (191, 0.0146), (206, 0.015),
    (180, 0.012), (195, 0.0058), (203, 0.0055), (211, 0.0047), (230, 0.0047), (220, 0.0055), (165, 0.003),
    (173, 0.0029), (177, 0.0023), (169, 0.0025), (182, 0.0034), (191, 0.0029), (195, 0.0018), (211, 0.0017),
    (215, 0.0013), (228, 0.0016), (177, 0.0012), (211, 0.0012), (230, 0.00105), (215, 8.1e-4), (245, 7.5e-4),
    (191, 4e-4), (205, 3.05e-4), (226, 4.2e-4), (241, 3.2e-4), (249, 4.1e-4), (230, 6.7e-4), (257, 5.5e-4),
    (272, 1.6e-4), (294, 7e-4),
    (244, 0.0098), (266, 0.0075), (280, 0.0068), (287, 0.0055), (269, 0.0058), (285, 0.0042), (263, 0.0138),
    (266, 0.0146), (244, 0.0114), (294, 0.0026), (299, 0.0021), (285, 0.0017), (294, 0.0014), (280, 0.0013),
    (266, 0.0015), (260, 0.0013), (269, 0.0018), (193, 0.0046), (226, 0.0076), (230, 0.0071), (215, 0.0071),
    (195, 0.011), (250, 0.0052), (269, 0.0046), (276, 0.0034), (263, 0.003), (235, 0.0032), (245, 0.0026),
    (228, 0.0028), (238, 0.0021), (246, 0.0022), (233, 0.0017),
]

FACE = "#e1e1e1"
EDGE = "#a5a5a5"
SPINE = "#333333"
FS = 17
LEG_FS = 16


def style_axes(ax):
    ax.set_xscale("log")
    ax.set_yscale("log")
    ax.set_xlim(5, 500)
    ax.set_ylim(1e-4, 1e2)
    ax.xaxis.set_major_locator(FixedLocator(x_ticks))
    ax.xaxis.set_major_formatter(FixedFormatter(x_tick_labels))
    ax.xaxis.set_minor_locator(LogLocator(base=10, subs=range(2, 10), numticks=50))
    ax.xaxis.set_minor_formatter(NullFormatter())
    ax.yaxis.set_major_locator(FixedLocator(y_ticks))
    ax.yaxis.set_major_formatter(LogFormatterSciNotation())
    ax.yaxis.set_minor_locator(LogLocator(base=10, subs=range(2, 10), numticks=50))
    ax.yaxis.set_minor_formatter(NullFormatter())
    ax.tick_params(which="both", direction="in", top=True, right=True,
                   color=SPINE, labelsize=FS)
    ax.tick_params(which="major", length=6, width=1.0)
    ax.tick_params(which="minor", length=3.5, width=0.8)
    ax.tick_params(axis="x", pad=9)
    ax.tick_params(axis="y", pad=7)
    for s in ax.spines.values():
        s.set_color(SPINE)
        s.set_linewidth(1.3)
    ax.set_xlabel("Distance (km)", fontsize=FS, labelpad=4)
    ax.set_ylabel("Arias intensity (m/s)", fontsize=FS, labelpad=17)


def draw_models(ax, lin, nl, fp, cb):
    h1, = ax.plot(*lin, color="black", lw=1.9, zorder=4, label="Linear (this study)")
    h2, = ax.plot(*nl, color="black", lw=2.2, dashes=(3.2, 1.8), zorder=4,
                  label="Nonlinear (this study)")
    h3, = ax.plot(*fp, color="#ff0000", lw=3.8, zorder=3,
                  label="Foulser-Piggott and Stafford (2012)")
    h4, = ax.plot(*cb, color="#ff0000", lw=3.8, dashes=(1.25, 0.8), zorder=3,
                  label="Campbell and Bozorgnia (2012)")
    return [h1, h2, h3, h4]


def crustal_legend(ax, handle, label, **kw):
    lg = ax.legend(handles=[handle], labels=[label], frameon=False, fontsize=LEG_FS,
                   borderpad=0.58, borderaxespad=0, handlelength=1.0, handleheight=1.15,
                   handletextpad=0.63, **kw)
    for t in lg.get_texts():
        t.set_linespacing(1.08)
    return lg


fig = plt.figure(figsize=(13.34, 6.33), dpi=100)
ax_a = fig.add_axes([0.0832, 0.1122, 0.3943, 0.8278])
ax_b = fig.add_axes([0.6057, 0.1122, 0.3930, 0.8278])

# ── (a) ──────────────────────────────────────────────────────────────
style_axes(ax_a)
sc_a = ax_a.scatter([p[0] for p in crustal_a], [p[1] for p in crustal_a], s=54,
                    facecolor=FACE, edgecolor=EDGE, linewidth=0.9, zorder=2)
handles_a = draw_models(ax_a, (lin_a_dist, lin_a_ia), (nl_a_dist, nl_a_ia),
                        (fp_a_dist, fp_a_ia), (cb_a_dist, cb_a_ia))
leg = ax_a.legend(handles=handles_a, loc="upper left", bbox_to_anchor=(0.209, 0.9585),
                  frameon=False, fontsize=LEG_FS, borderpad=0, borderaxespad=0,
                  handlelength=2.57, handletextpad=0.6, labelspacing=0.36)
ax_a.add_artist(leg)
crustal_legend(ax_a, sc_a,
               "Crustal data\n($\\mathbf{M}$ = 5.75 to 6.25 and\n"
               "$V_{\\mathrm{S30}}$ = 200 to 500 m/s)",
               loc="lower left", bbox_to_anchor=(0.0, 0.0))
ax_a.text(0.688, 0.685, "$\\mathbf{M}$ = 6", transform=ax_a.transAxes, fontsize=FS)
ax_a.text(0.688, 0.628, "$H$ = 10 km", transform=ax_a.transAxes, fontsize=FS)
ax_a.text(0.688, 0.572, "$V_{\\mathrm{S30}}$ = 300 m/s", transform=ax_a.transAxes, fontsize=FS)

# ── (b) ──────────────────────────────────────────────────────────────
style_axes(ax_b)
sc_b = ax_b.scatter([p[0] for p in crustal_b], [p[1] for p in crustal_b], s=54,
                    facecolor=FACE, edgecolor=EDGE, linewidth=0.9, zorder=2)
handles_b = draw_models(ax_b, (lin_b_dist, lin_b_ia), (nl_b_dist, nl_b_ia),
                        (fp_b_dist, fp_b_ia), (cb_b_dist, cb_b_ia))
leg = ax_b.legend(handles=handles_b, loc="upper left", bbox_to_anchor=(0.0285, 0.2344),
                  frameon=False, fontsize=LEG_FS, borderpad=0, borderaxespad=0,
                  handlelength=2.57, handletextpad=0.6, labelspacing=0.36)
ax_b.add_artist(leg)
crustal_legend(ax_b, sc_b,
               "Crustal data\n($\\mathbf{M}$ = 6.75 to 7.25 and\n"
               "$V_{\\mathrm{S30}}$ = 200 to 500 m/s)",
               loc="upper left", bbox_to_anchor=(0.449, 0.9775))
ax_b.text(0.686, 0.763, "$\\mathbf{M}$ = 7", transform=ax_b.transAxes, fontsize=FS)
ax_b.text(0.686, 0.706, "$H$ = 10 km", transform=ax_b.transAxes, fontsize=FS)
ax_b.text(0.686, 0.653, "$V_{\\mathrm{S30}}$ = 300 m/s", transform=ax_b.transAxes, fontsize=FS)

fig.text(0.0075, 0.957, "(a)", fontsize=20, family="Liberation Sans", va="center")
fig.text(0.530, 0.957, "(b)", fontsize=20, family="Liberation Sans", va="center")

fig.savefig("out.png", dpi=100)
